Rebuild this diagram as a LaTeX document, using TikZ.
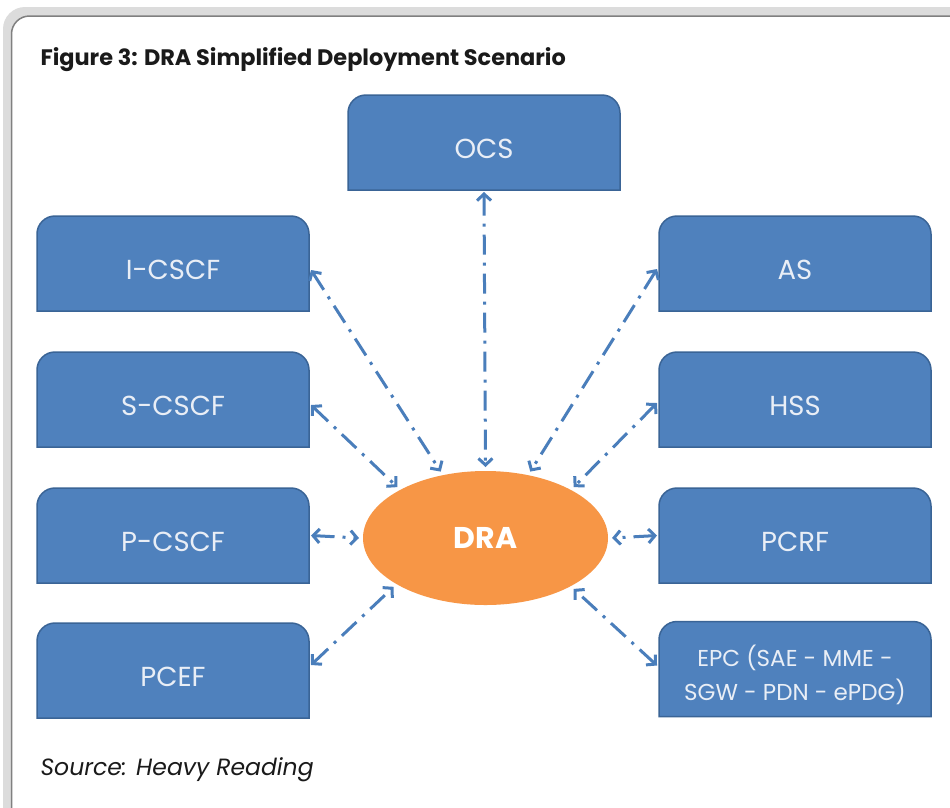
\documentclass[tikz,border=0pt]{standalone}
\usepackage{fontspec}
\setmainfont{Poppins}
\usetikzlibrary{arrows.meta,shapes.geometric}
\definecolor{boxfill}{HTML}{4F81BD}
\definecolor{boxline}{HTML}{3A6496}
\definecolor{linkc}{HTML}{4A7EBB}
\definecolor{drafill}{HTML}{F79646}
\definecolor{labelc}{HTML}{E9EEF6}
\definecolor{shadowc}{HTML}{DCDCDC}
\definecolor{framec}{HTML}{808080}
\definecolor{inkc}{HTML}{1A1A1A}

% a blue box with rounded top corners: [label style] name, centre x, centre y, label
\newcommand\tabbox[5][]{%
  \filldraw[tabshape,shift={(#3,#4)}] (-136,47.5) -- (-136,-29.5)
    arc[start angle=180,end angle=90,radius=18pt] -- (118,-47.5)
    arc[start angle=90,end angle=0,radius=18pt] -- (136,47.5) -- cycle;
  \node[tabnode] (#2) at (#3,#4) {};
  \node[tablabel,#1] (#2-label) at (#3,#4+6) {#5};
}

\begin{document}
\begin{tikzpicture}[x=1pt,y=-1pt,
  tabnode/.style={rectangle,minimum width=272pt,minimum height=95pt,inner sep=0pt,
    outer sep=2pt},
  tablabel/.style={inner sep=0pt,text=labelc,font=\fontsize{27.5}{32}\selectfont,
    align=center},
  smalllabel/.style={font=\fontsize{23}{34}\selectfont},
  tabshape/.style={fill=boxfill,draw=boxline,line width=1.5pt},
  link/.style={draw=linkc,line width=3pt,
    dash pattern=on 20pt off 8pt on 3pt off 8pt,
    >={Straight Barb[length=6.5pt,width=14pt]},<->},
]
\useasboundingbox (0,0) rectangle (950,807);
\clip (0,0) rectangle (950,807);

% page frame with its grey shadow band
\fill[shadowc,rounded corners=22pt] (3,7) rectangle (972,830);
\filldraw[fill=white,draw=framec,line width=1.5pt,rounded corners=18pt]
  (11.5,16) rectangle (970,830);

\node[anchor=base west,text=inkc,font=\bfseries\fontsize{22.4}{26}\selectfont]
  (title) at (37,65) {Figure 3: DRA Simplified Deployment Scenario};

% network elements
\tabbox{ocs}{484}{142.5}{OCS}
\tabbox{icscf}{173}{263.5}{I-CSCF}
\tabbox{scscf}{173}{399.5}{S-CSCF}
\tabbox{pcscf}{173}{535.5}{P-CSCF}
\tabbox{pcef}{173}{670.5}{PCEF}
\tabbox{as}{795}{263.5}{AS}
\tabbox{hss}{795}{399.5}{HSS}
\tabbox{pcrf}{795}{535.5}{PCRF}
\tabbox[smalllabel]{epc}{795}{669}{EPC (SAE - MME -\\SGW - PDN - ePDG)}

% the Diameter Routing Agent
\node[ellipse,fill=drafill,minimum width=245pt,minimum height=134pt,inner sep=0pt,
  outer sep=4pt,text=white,font=\bfseries\fontsize{30}{34}\selectfont]
  (dra) at (485.5,538) {DRA};

% Diameter links
\draw[link] (ocs.south) -- (dra.90);
\draw[link] ([yshift=-6.5pt]icscf.east) -- (dra.124);
\draw[link] ([yshift=-5.5pt]scscf.east) -- (dra.150);
\draw[link] (pcscf.east) -- (dra.180);
\draw[link] ([yshift=5.5pt]pcef.east) -- (dra.208);
\draw[link] ([yshift=-5.5pt]as.west) -- (dra.56);
\draw[link] ([yshift=-3.5pt]hss.west) -- (dra.30);
\draw[link] (pcrf.west) -- (dra.0);
\draw[link] ([yshift=3.5pt]epc.west) -- (dra.330);

\node[anchor=base west,text=inkc,font=\itshape\fontsize{23.5}{28}\selectfont]
  (src) at (37,775) {Source: Heavy Reading};
\end{tikzpicture}
\end{document}
